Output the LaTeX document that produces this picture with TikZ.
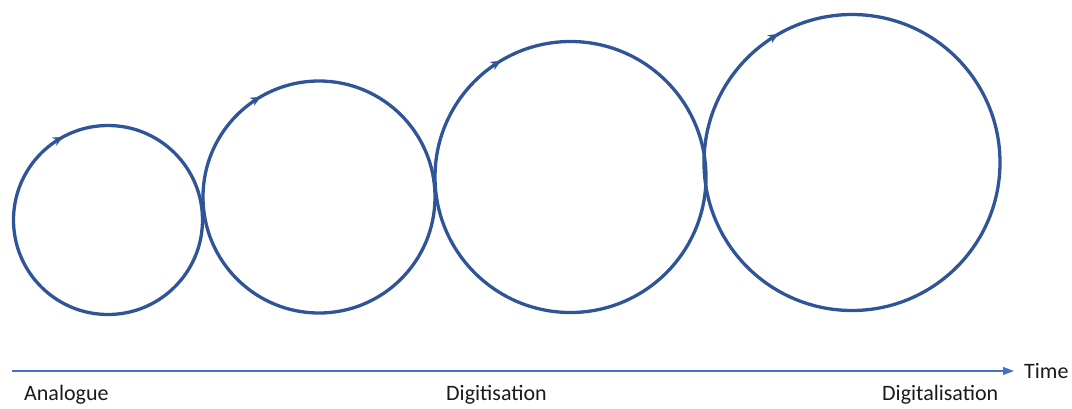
\documentclass[tikz,border=0pt]{standalone}
\usepackage{fontspec}
\setmainfont{Carlito}
\usetikzlibrary{arrows.meta,decorations.markings}
\definecolor{ringblue}{HTML}{2F5597}
\definecolor{axisblue}{HTML}{4472C4}
\definecolor{labelgray}{HTML}{1A1A1A}
\tikzset{
  ring/.style={draw=ringblue, line width=3.3pt,
    postaction={decorate},
    decoration={markings, mark=at position #1 with {\arrow[line width=0.1pt]{Stealth[length=10pt,width=9pt]}}}},
  ring/.default=0.667,
  axis/.style={draw=axisblue, line width=1.1pt, -{Triangle[length=11pt,width=8pt]}},
  lbl/.style={font=\fontsize{22}{26}\selectfont, text=labelgray, inner sep=0pt}
}
\begin{document}
\begin{tikzpicture}[x=1pt,y=-1pt]
\useasboundingbox (0,0) rectangle (1072,408);
\coordinate (k1) at (108,220);
\coordinate (k2) at (319,197);
\coordinate (k3) at (570.5,177);
\coordinate (k4) at (852,162.5);
\draw[ring=0.671] (k1) circle[radius=94.5];
\draw[ring=0.666] (k2) circle[radius=116];
\draw[ring=0.664] (k3) circle[radius=135.5];
\draw[ring=0.667] (k4) circle[radius=148];
\coordinate (t0) at (12,371);
\coordinate (t1) at (1014,371);
\draw[axis] (t0) -- (t1);
\node[lbl, anchor=west] (time) at (1024,371) {Time};
\node[lbl, anchor=west] (ana) at (24,395) {Analogue};
\node[lbl, anchor=west] (digi) at (446,395) {Digitisation};
\node[lbl, anchor=west] (digl) at (882,395) {Digitalisation};
\end{tikzpicture}
\end{document}
